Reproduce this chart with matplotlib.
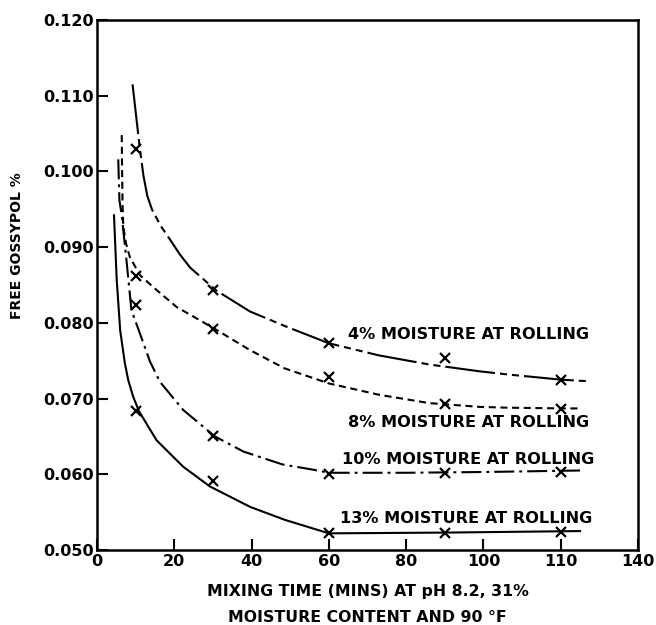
import matplotlib
matplotlib.use('Agg')
import matplotlib.pyplot as plt

# measured points (x marks)
t_pts = [10, 30, 60, 90, 120]
y4 = [0.1030, 0.0843, 0.0773, 0.0754, 0.0725]
y8 = [0.0862, 0.0792, 0.0728, 0.0693, 0.0686]
y10 = [0.0823, 0.0650, 0.0600, 0.0602, 0.0603]
y13 = [0.0683, 0.0591, 0.0522, 0.0523, 0.0524]

# hand drawn curves
c4_t = [9.2, 10.2, 11.1, 12.0, 13.0, 14.2, 16.5, 18.9, 21.5, 24.1, 30.8, 39.6, 49, 60, 73, 86, 99, 106, 120, 126.7]
c4_y = [0.1115, 0.1070, 0.1030, 0.0995, 0.0968, 0.0950, 0.0928, 0.0910, 0.0890, 0.0873, 0.0843, 0.0815, 0.0795, 0.0773, 0.0757, 0.0745, 0.0736, 0.0732, 0.0725, 0.0723]
c8_t = [6.4, 6.5, 6.6, 6.8, 7.5, 8.5, 11.1, 15.5, 20.6, 30.5, 39.6, 48.5, 60, 73, 86, 99, 106, 120, 124.5]
c8_y = [0.1048, 0.1000, 0.0960, 0.0927, 0.0905, 0.0887, 0.0863, 0.0843, 0.0821, 0.0792, 0.0764, 0.0740, 0.0720, 0.0705, 0.0694, 0.0689, 0.0688, 0.0687, 0.0687]
c10_t = [5.5, 5.8, 6.4, 7.7, 8.9, 11.1, 13.7, 16.3, 22.3, 30.5, 37.9, 48, 56, 60, 80, 100, 125]
c10_y = [0.1016, 0.0962, 0.0942, 0.0879, 0.0817, 0.0786, 0.0749, 0.0722, 0.0685, 0.0650, 0.0630, 0.0613, 0.0606, 0.0602, 0.0602, 0.0603, 0.0605]
c13_t = [4.4, 5.1, 6.0, 7.2, 8.1, 9.4, 10.9, 15.4, 22.3, 29.2, 39.6, 48.5, 60, 90, 125]
c13_y = [0.0942, 0.0857, 0.0790, 0.0747, 0.0724, 0.0702, 0.0683, 0.0645, 0.0610, 0.0584, 0.0557, 0.0540, 0.0522, 0.0523, 0.0525]

xticks = [0, 20, 40, 60, 80, 100, 120, 140]
xtick_labels = ['0', '20', '40', '60', '80', '100', '110', '140']
yticks = [0.050, 0.060, 0.070, 0.080, 0.090, 0.100, 0.110, 0.120]

labels = ['4% MOISTURE AT ROLLING', '8% MOISTURE AT ROLLING',
          '10% MOISTURE AT ROLLING', '13% MOISTURE AT ROLLING']
label_x = [65, 65, 63.5, 62.8]
label_y = [0.0785, 0.0668, 0.0619, 0.0542]

plt.rcParams['font.family'] = 'DejaVu Sans'
plt.rcParams['font.weight'] = 'bold'

fig = plt.figure(figsize=(6.56, 6.25), dpi=100)
ax = fig.add_axes([97/656, 75/625, 541/656, 530/625])

lw = 1.5
ax.plot(c4_t, c4_y, color='black', lw=lw, ls=(0, (24, 2.4, 3.4, 2.4, 3.4, 2.4)))
ax.plot(c8_t, c8_y, color='black', lw=lw, ls=(0, (3.4, 2.2)))
ax.plot(c10_t, c10_y, color='black', lw=lw, ls=(0, (9.6, 2.4, 1.4, 2.4)))
ax.plot(c13_t, c13_y, color='black', lw=lw, ls='-')

for ys in (y4, y8, y10, y13):
    ax.plot(t_pts, ys, ls='none', marker='x', color='black', ms=7, mew=1.6)

for txt, x, y in zip(labels, label_x, label_y):
    ax.text(x, y, txt, fontsize=11.6, fontweight='bold', ha='left', va='center')

ax.set_xlim(0, 140)
ax.set_ylim(0.050, 0.120)
ax.set_xticks(xticks)
ax.set_xticklabels(xtick_labels)
ax.set_yticks(yticks)
ax.set_yticklabels(['%.3f' % v for v in yticks])
ax.tick_params(direction='in', length=8, width=1.5, labelsize=11.5, pad=3)
ax.tick_params(axis='y', pad=2, labelsize=11.5)
for s in ax.spines.values():
    s.set_linewidth(1.8)

ax.set_xlabel('MIXING TIME (MINS) AT pH 8.2, 31%\nMOISTURE CONTENT AND 90 \u00b0F',
              fontsize=11.3, fontweight='bold', linespacing=1.85, labelpad=11)
ax.set_ylabel('FREE GOSSYPOL %', fontsize=10, fontweight='bold')
ax.yaxis.set_label_coords(-0.135, 0.575)

fig.savefig('out.png', dpi=100)
